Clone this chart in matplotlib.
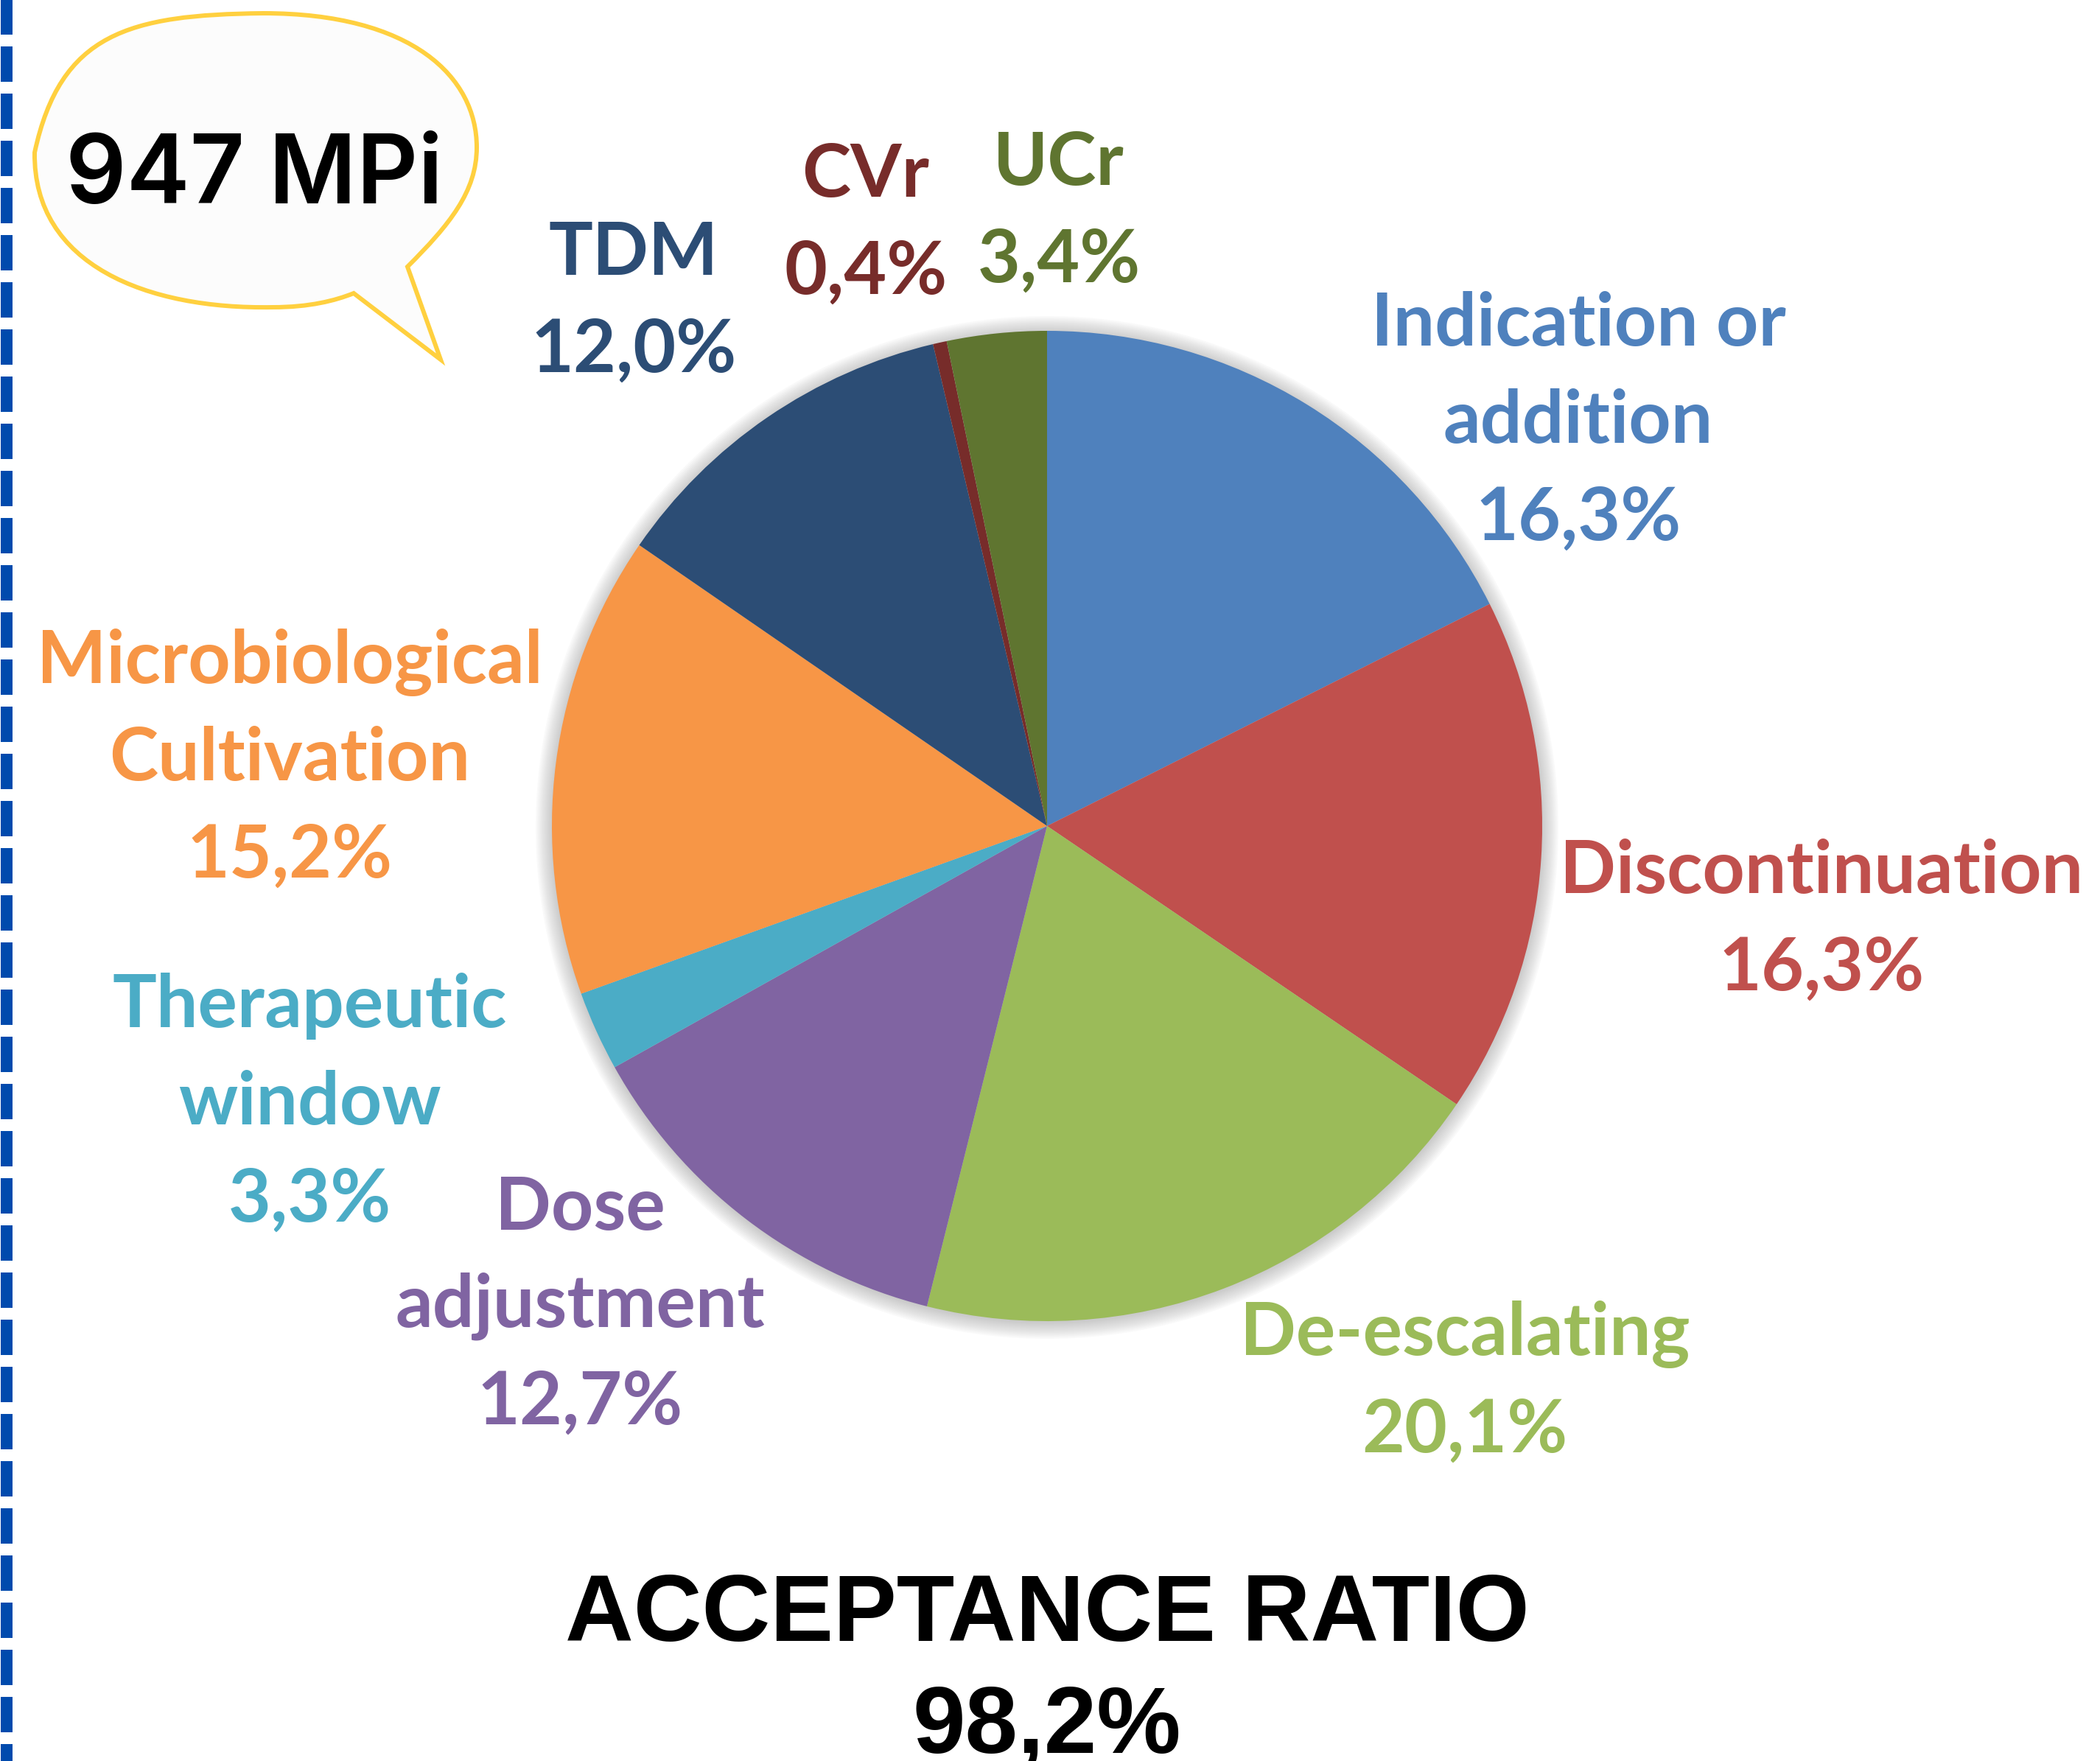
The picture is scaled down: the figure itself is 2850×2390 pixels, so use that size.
import matplotlib
matplotlib.use('Agg')
import matplotlib.pyplot as plt
from matplotlib.path import Path
from matplotlib.patches import PathPatch, Circle
from matplotlib.lines import Line2D

plt.rcParams['lines.scale_dashes'] = False

# ------------------------------------------------------------ #
#                             Data                             #
# ------------------------------------------------------------ #
categories = ['Indication or\naddition', 'Discontinuation', 'De-escalating',
              'Dose\nadjustment', 'Therapeutic\nwindow', 'Microbiological\nCultivation',
              'TDM', 'CVr', 'UCr']
# percentages printed in the labels
shares = [16.3, 16.3, 20.1, 12.7, 3.3, 15.2, 12.0, 0.4, 3.4]
# wedge sizes as drawn in the picture (they do not follow the labels exactly)
wedge_sizes = [17.6, 16.9, 19.4, 13.0, 2.6, 15.1, 11.7, 0.45, 3.25]
colors = ['#4F81BD', '#C0504D', '#9BBB59', '#8064A2', '#4BACC6',
          '#F79646', '#2C4D75', '#772C2A', '#5F7530']
total_mpi = '947 MPi'
acceptance = 98.2

# label anchor (centre x, baseline of first line), in pixels from top-left
label_pos = [(2142, 469), (2472, 1212), (1988, 1839), (787, 1669), (420, 1394),
             (393, 927), (860, 373), (1175, 267), (1437, 251)]

W, H = 2850, 2390
fig = plt.figure(figsize=(W / 100, H / 100), dpi=100)
ax = fig.add_axes([0, 0, 1, 1])

def Y(y):                                                   # top-down pixel -> axes y
    return H - y

# ------------------------------------------------------------ #
#                          Pie chart                           #
# ------------------------------------------------------------ #
cx, cy, R = 1421, Y(1121), 672
for k in range(12):                                         # soft outer shadow
    ax.add_patch(Circle((cx, cy - 2), R + 2 * k, color='#8a8a8a',
                        alpha=0.045, lw=0, zorder=0))
ax.pie(wedge_sizes, colors=colors, startangle=90, counterclock=False,
       center=(cx, cy), radius=R, frame=True,
       wedgeprops=dict(linewidth=0, zorder=1))

pitch = 132
for name, v, c, (x, y) in zip(categories, shares, colors, label_pos):
    lines = name.split('\n') + [f'{v:.1f}'.replace('.', ',') + '%']
    for i, line in enumerate(lines):
        ax.text(x, Y(y + i * pitch), line, ha='center', va='baseline',
                color=c, fontsize=72, fontweight='bold', family=['Lato', 'DejaVu Sans'])

# ------------------------------------------------------------ #
#                      Speech bubble + text                    #
# ------------------------------------------------------------ #
pts = [(553, 362), (610, 305), (647, 260), (647, 200),
       (647, 105), (560, 18), (357, 18),
       (175, 20), (82, 45), (47, 207),
       (45, 360), (200, 420), (370, 417),
       (420, 417), (455, 408), (480, 398),
       (598, 488), (553, 362)]
codes = [Path.MOVETO] + [Path.CURVE4] * 15 + [Path.LINETO, Path.CLOSEPOLY]
bubble = Path([(x, Y(y)) for x, y in pts], codes)
ax.add_patch(PathPatch(bubble, facecolor='#FCFCFC', edgecolor='#FFD03F',
                       lw=4.3, joinstyle='miter', zorder=3))
ax.text(345, Y(276), total_mpi, ha='center', va='baseline', fontsize=93,
        fontweight='semibold', family=['Inter', 'DejaVu Sans'], color='black', zorder=4)

# ------------------------------------------------------------ #
#                        Bottom caption                        #
# ------------------------------------------------------------ #
ax.text(1421, Y(2227), 'ACCEPTANCE RATIO', ha='center', va='baseline', fontsize=92.5,
        fontweight='bold', family=['Liberation Sans', 'DejaVu Sans'], color='black')
ax.text(1421, Y(2379), f'{acceptance:.1f}'.replace('.', ',') + '%', ha='center',
        va='baseline', fontsize=92.5, fontweight='bold',
        family=['Liberation Sans', 'DejaVu Sans'], color='black')

# dashed border on the left
ax.add_line(Line2D([9, 9], [Y(-37), Y(H + 64)], color='#004AAD', lw=11.5,
                   dashes=(34.56, 11.52), solid_capstyle='butt', dash_capstyle='butt'))

ax.set_xlim(0, W)
ax.set_ylim(0, H)
ax.set_aspect('equal')
ax.axis('off')

fig.savefig('out.png', dpi=100, facecolor='white')
